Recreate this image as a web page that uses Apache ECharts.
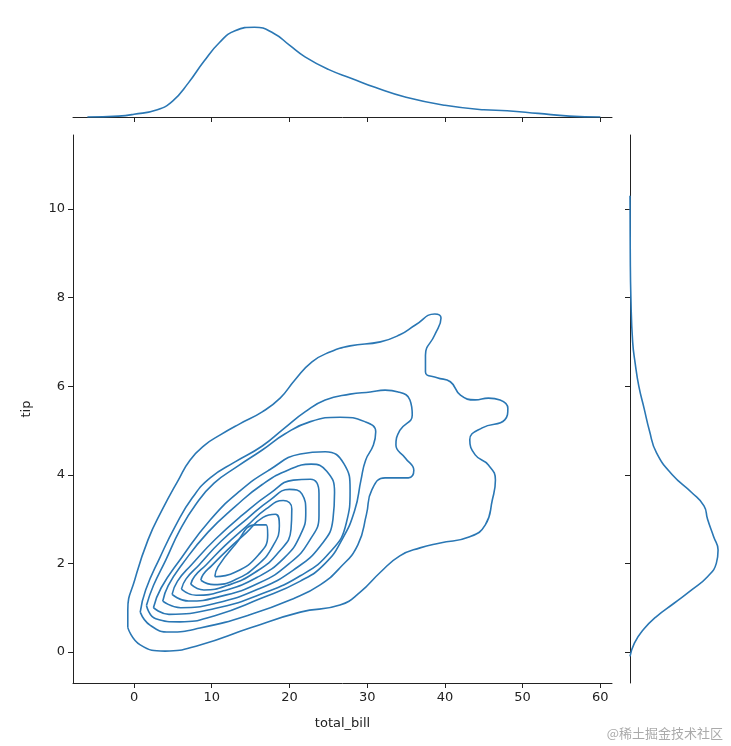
<!DOCTYPE html>
<html>
<head>
<meta charset="utf-8">
<script src="https://cdn.jsdelivr.net/npm/echarts@6/dist/echarts.min.js"></script>
<style>html,body{margin:0;padding:0;background:#fff}#c{width:731px;height:746px}</style>
</head>
<body>
<div id="c"></div>
<script>
var xTicks = [0, 10, 20, 30, 40, 50, 60];
var yTicks = [0, 2, 4, 6, 8, 10];

// contour loops, [total_bill, tip]
var level1 = [[-0.8,0.55],[0.8,0.16],[4,0.02],[8.5,0.16],[14.9,0.54],[21.4,0.9],[26.5,1.06],[29.1,1.35],[31.7,1.8],[34.2,2.17],[36.8,2.35],[39.4,2.46],[43.2,2.6],[45.2,2.87],[46.1,3.43],[46.5,3.88],[45.6,4.22],[43.9,4.45],[43.2,4.79],[44.8,5.06],[47.7,5.24],[48.1,5.5],[47.1,5.69],[45.6,5.73],[43.9,5.69],[42,5.8],[40.7,6.1],[39,6.19],[37.5,6.32],[37.5,6.7],[38.7,7.16],[39.5,7.54],[38.7,7.63],[36.2,7.38],[34.2,7.16],[31.7,7.0],[27.8,6.91],[25.2,6.77],[22.9,6.55],[20.7,6.14],[18.8,5.73],[16.5,5.42],[13.6,5.15],[11.1,4.9],[9.1,4.67],[7.2,4.33],[5.7,3.88],[3.6,3.2],[1.8,2.53],[0.1,1.63],[-0.8,0.95]];
var level2 = [[0.8,0.9],[2.1,0.6],[4.6,0.45],[8.5,0.54],[14.9,0.84],[20.7,1.22],[23.9,1.51],[26.5,1.9],[28.8,2.42],[29.9,3.1],[30.6,3.66],[32.3,3.93],[35.3,3.93],[36,4.1],[34.9,4.38],[33.7,4.67],[34.2,5.0],[35.8,5.35],[35.5,5.69],[34,5.87],[32.3,5.91],[30.4,5.87],[27.8,5.82],[24.6,5.69],[22,5.42],[19.4,5.06],[16.5,4.65],[13,4.29],[9.8,3.93],[7.5,3.48],[5.4,2.87],[3.3,2.12],[1.5,1.4]];
var level3 = [[1.6,1.05],[2.8,0.75],[5.9,0.68],[10.4,0.82],[16.2,1.2],[21.4,1.6],[24.6,2.0],[26.8,2.55],[28.4,3.2],[29.2,3.88],[29.8,4.33],[30.8,4.67],[31.1,4.97],[29.7,5.2],[26.5,5.3],[22.7,5.2],[19.4,4.92],[16.5,4.56],[13.4,4.2],[10.3,3.81],[7.9,3.32],[5.9,2.75],[4.1,2.08],[2.5,1.5]];
var level4 = [[2.5,1.0],[4.5,0.85],[10.4,0.98],[16.2,1.3],[21.4,1.72],[25.2,2.25],[27.3,2.9],[27.8,3.66],[27,4.25],[24.6,4.52],[21.4,4.47],[17.5,4.12],[13.6,3.63],[9.8,2.98],[6,2.1],[3.5,1.45]];
var level5 = [[3.7,1.15],[6,1.0],[10.5,1.1],[16,1.42],[20.5,1.85],[24,2.4],[25.6,3.0],[25.8,3.6],[24.8,4.08],[22.8,4.24],[20,4.12],[16.5,3.78],[13,3.28],[9.5,2.7],[6.2,1.98],[4.4,1.5]];
var level6 = [[4.9,1.3],[7,1.15],[11,1.25],[16,1.55],[20,2.0],[22.6,2.52],[23.8,3.08],[23.8,3.58],[22.7,3.9],[20.5,3.88],[17.5,3.58],[14,3.1],[10.5,2.55],[7.4,1.97],[5.6,1.6]];
var level7 = [[6.1,1.42],[8,1.28],[11.5,1.38],[15.8,1.68],[19.3,2.12],[21.4,2.64],[22.1,3.15],[21.6,3.57],[20,3.67],[17.5,3.43],[14.5,3.0],[11.2,2.5],[8.4,1.97],[6.7,1.65]];
var level8 = [[7.3,1.53],[9,1.4],[12,1.5],[15.6,1.8],[18.6,2.25],[20.2,2.77],[20.3,3.23],[19.2,3.42],[17,3.23],[14.5,2.84],[11.7,2.4],[9.3,1.97],[7.8,1.71]];
var level9 = [[8.6,1.62],[10.3,1.52],[13,1.63],[15.8,1.95],[17.9,2.4],[18.7,2.85],[18.2,3.11],[16.6,3.04],[14.5,2.7],[12,2.3],[10,1.95],[8.9,1.75]];
var level10 = [[10.4,1.7],[13,1.8],[16,2.19],[17.2,2.64],[17,2.87],[15.6,2.87],[13,2.42],[10.8,1.92]];
var levels = [level1, level2, level3, level4, level5, level6, level7, level8, level9, level10];

// marginal densities (relative)
var billKde = [[-6,0],[-2,0.01],[0,0.03],[3,0.08],[5,0.18],[7,0.38],[9,0.62],[11,0.83],[13,0.96],[15.5,1.0],[18,0.93],[20,0.8],[22,0.67],[25,0.53],[28,0.43],[31,0.33],[35,0.22],[40,0.13],[45,0.08],[48,0.07],[52,0.04],[56,0.01],[60,0]];
var tipKde = [[0,-0.1],[0.05,0.2],[0.15,0.5],[0.3,0.8],[0.5,1.1],[0.7,1.4],[0.88,1.7],[0.98,2.0],[1.0,2.3],[0.95,2.6],[0.88,3.0],[0.84,3.3],[0.7,3.6],[0.48,4.0],[0.3,4.5],[0.22,5.0],[0.16,5.5],[0.1,6],[0.06,6.5],[0.03,7],[0.01,8],[0.003,9],[0.001,10],[0,10.3]];

var blue = '#2a77b4';
var font = 'DejaVu Sans';
var XMIN = -7.85, XMAX = 61.5, YMIN = -0.7, YMAX = 11.67;

function axisBase() {
  return {
    type: 'value', splitLine: {show: false},
    axisLine: {show: true, onZero: false, lineStyle: {color: '#222', width: 1}},
    axisTick: {show: true, length: 5, lineStyle: {color: '#222'}},
    axisLabel: {show: false}
  };
}

var series = levels.map(function (lv) {
  return {
    type: 'line', xAxisIndex: 0, yAxisIndex: 0, smooth: 0.5, showSymbol: false, silent: true,
    data: lv.concat([lv[0]]), lineStyle: {color: blue, width: 1.6}
  };
});
series.push({type: 'line', xAxisIndex: 1, yAxisIndex: 1, smooth: true, showSymbol: false, data: billKde, lineStyle: {color: blue, width: 1.6}});
series.push({type: 'line', xAxisIndex: 2, yAxisIndex: 2, smooth: true, showSymbol: false, data: tipKde, lineStyle: {color: blue, width: 1.6}});

var x0 = axisBase();
x0.gridIndex = 0; x0.min = XMIN; x0.max = XMAX;
x0.axisTick.customValues = xTicks;
x0.axisLabel = {show: true, customValues: xTicks, color: '#222', fontFamily: font, fontSize: 13, margin: 8};
x0.name = 'total_bill'; x0.nameLocation = 'middle'; x0.nameGap = 34;
x0.nameTextStyle = {color: '#222', fontFamily: font, fontSize: 13};

var y0 = axisBase();
y0.gridIndex = 0; y0.min = YMIN; y0.max = YMAX;
y0.axisTick.customValues = yTicks;
y0.axisLabel = {show: true, customValues: yTicks, color: '#222', fontFamily: font, fontSize: 13, margin: 8};
y0.name = 'tip'; y0.nameLocation = 'middle'; y0.nameGap = 40;
y0.nameTextStyle = {color: '#222', fontFamily: font, fontSize: 13};

var x1 = axisBase();
x1.gridIndex = 1; x1.min = XMIN; x1.max = XMAX; x1.axisTick.customValues = xTicks;
var y1 = {type: 'value', gridIndex: 1, min: 0, max: 1.08, show: false};

var x2 = {type: 'value', gridIndex: 2, min: 0, max: 1.09, show: false};
var y2 = axisBase();
y2.gridIndex = 2; y2.min = YMIN; y2.max = YMAX; y2.axisTick.customValues = yTicks;

var chart = echarts.init(document.getElementById('c'));
chart.setOption({
  backgroundColor: '#fff',
  animation: false,
  grid: [
    {left: 73, right: 119, top: 135, bottom: 63},
    {left: 73, right: 119, top: 20, bottom: 629},
    {left: 630, right: 5, top: 135, bottom: 63}
  ],
  xAxis: [x0, x1, x2],
  yAxis: [y0, y1, y2],
  series: series,
  graphic: [{
    type: 'text', right: 8, bottom: 6,
    style: {text: '@稀土掘金技术社区', fill: '#aaa', font: '13px "Noto Sans CJK SC"'}
  }]
});
</script>
</body>
</html>
